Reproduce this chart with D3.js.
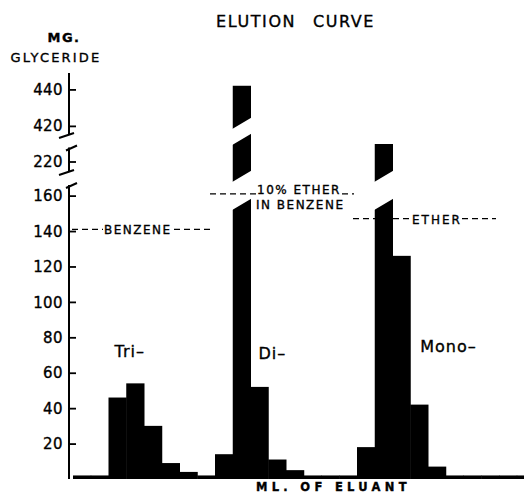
<!DOCTYPE html>
<html>
<head>
<meta charset="utf-8">
<script src="https://cdn.jsdelivr.net/npm/d3@7"></script>
<style>
  html, body { margin: 0; padding: 0; background: #fff; }
  svg { display: block; }
  text { font-family: "DejaVu Sans", sans-serif; fill: #000; stroke: #000; stroke-width: 0.35px; }
</style>
</head>
<body>
<svg id="chart" width="524" height="496"></svg>
<script>
// ---------- data ----------
const fractions = d3.range(26);               // successive eluant fractions
const glyceride = [2, 2,                      // leading fractions
  46, 54, 30, 9, 4,                           // Tri-
  2,
  14, 442, 52, 11, 5,                         // Di-
  2, 2, 2,
  18, 230, 126, 42, 7,                        // Mono-
  2, 2, 2, 2, 2];
const lowerTicks = [20, 40, 60, 80, 100, 120, 140, 160];
const middleTicks = [220];
const upperTicks = [420, 440];
const axisSegments = [[0, 166], [214, 228], [415, 449]];
const peakLabels = ["Tri\u2013", "Di\u2013", "Mono\u2013"];
const peakLabelAt = [2, 10, 19];              // fraction index where label starts
const peakLabelValue = [72, 71, 75];
const solventLabels = ["BENZENE", "10% ETHER", "IN BENZENE", "ETHER"];

// ---------- scales ----------
const svg = d3.select("#chart");
const x = d3.scaleBand().domain(fractions).range([73, 73 + 26 * 17.75]).padding(0);
// broken (piecewise) value axis
const y = d3.scaleLinear()
  .domain([0, 166, 214, 230, 415, 449])
  .range([479, 185, 172, 144, 135, 73]);

const axisX = 69;

// ---------- bars ----------
const g = svg.append("g");
g.selectAll("rect.bar").data(glyceride).join("rect")
  .attr("class", "bar")
  .attr("x", (d, i) => x(i))
  .attr("width", x.bandwidth() + 0.5)
  .attr("y", d => y(d))
  .attr("height", d => y(0) - y(d))
  .attr("fill", "#000");

// slanted white gaps through bars that cross the axis breaks
const gaps = [{ v: 417, h: 16, min: 420 }, { v: 163, h: 28, min: 170 }];
gaps.forEach(gp => {
  const cy = y(gp.v);
  glyceride.forEach((d, i) => {
    if (d < gp.min) return;
    const x0 = x(i) - 1, x1 = x(i) + x.bandwidth() + 1.5;
    const s = 6;
    g.append("polygon")
      .attr("points", [
        [x0, cy - gp.h / 2 + s], [x1, cy - gp.h / 2 - s],
        [x1, cy + gp.h / 2 - s], [x0, cy + gp.h / 2 + s]
      ].map(p => p.join(",")).join(" "))
      .attr("fill", "#fff");
  });
});

// ---------- axis ----------
const ax = svg.append("g");
axisSegments.forEach(seg => {
  ax.append("line")
    .attr("x1", axisX).attr("x2", axisX)
    .attr("y1", y(seg[0])).attr("y2", y(seg[1]))
    .attr("stroke", "#000").attr("stroke-width", 2);
});
// break marks
axisSegments.forEach((seg, k) => {
  if (k > 0) {
    const yb = y(seg[0]);
    ax.append("line").attr("x1", axisX - 10).attr("y1", yb + 3)
      .attr("x2", axisX + 5).attr("y2", yb - 2)
      .attr("stroke", "#000").attr("stroke-width", 2);
  }
  if (k < axisSegments.length - 1) {
    const yt = y(seg[1]);
    ax.append("line").attr("x1", axisX - 3).attr("y1", yt + 3)
      .attr("x2", axisX + 8).attr("y2", yt - 2)
      .attr("stroke", "#000").attr("stroke-width", 2);
  }
});
const allTicks = lowerTicks.concat(middleTicks, upperTicks);
const yAxis = d3.axisLeft(y).tickValues(allTicks).tickSize(-7).tickPadding(6)
  .tickFormat(d => String(d));
const ag = svg.append("g").attr("transform", `translate(${axisX},0)`).call(yAxis);
ag.select(".domain").remove();
ag.selectAll(".tick line").attr("stroke", "#000").attr("stroke-width", 1.8);
ag.selectAll(".tick text")
  .style("font-family", "DejaVu Sans, sans-serif")
  .style("font-size", "15px")
  .style("letter-spacing", "0.4px")
  .attr("fill", "#000")
  .attr("dy", "0.34em");

// ---------- titles ----------
svg.append("text").attr("x", 216).attr("y", 27)
  .style("font-size", "16px").style("letter-spacing", "1.6px").style("word-spacing", "10px")
  .text("ELUTION CURVE");
svg.append("text").attr("x", 64).attr("y", 42).attr("text-anchor", "middle")
  .style("font-size", "13px").style("letter-spacing", "1.5px").style("font-weight", "bold")
  .text("MG.");
svg.append("text").attr("x", 56).attr("y", 62).attr("text-anchor", "middle")
  .style("font-size", "13px").style("letter-spacing", "2.2px")
  .text("GLYCERIDE");
svg.append("text").attr("x", 256).attr("y", 491)
  .style("font-size", "11.5px").style("letter-spacing", "4.3px").style("font-weight", "bold")
  .text("ML. OF ELUANT");

// ---------- peak labels ----------
peakLabels.forEach((t, i) => {
  svg.append("text")
    .attr("x", x(peakLabelAt[i]) + (i === 0 ? 6 : (i === 1 ? 8 : 10)))
    .attr("y", y(peakLabelValue[i]) + 6)
    .style("font-size", "16px").style("letter-spacing", "1px")
    .text(t);
});

// ---------- solvent annotations ----------
const ann = svg.append("g");
function dash(x1, x2, v) {
  ann.append("line").attr("x1", x1).attr("x2", x2)
    .attr("y1", y(v)).attr("y2", y(v))
    .attr("stroke", "#000").attr("stroke-width", 1.2).attr("stroke-dasharray", "6,4");
}
// BENZENE
dash(axisX + 3, 103, 141);
ann.append("text").attr("x", 104).attr("y", y(141) + 5)
  .style("font-size", "12px").style("letter-spacing", "1.5px").text(solventLabels[0]);
dash(174, 212, 141);
// 10% ETHER IN BENZENE
dash(210, 256, 161);
ann.append("text").attr("x", 257).attr("y", y(164) + 5)
  .style("font-size", "12px").style("letter-spacing", "1.5px").text(solventLabels[1]);
dash(342, 354, 161);
ann.append("text").attr("x", 256).attr("y", y(155) + 5)
  .style("font-size", "12px").style("letter-spacing", "1.5px").text(solventLabels[2]);
// ETHER
dash(353, 411, 147);
ann.append("text").attr("x", 412).attr("y", y(147) + 5)
  .style("font-size", "12px").style("letter-spacing", "2px").text(solventLabels[3]);
dash(462, 496, 147);
</script>
</body>
</html>
